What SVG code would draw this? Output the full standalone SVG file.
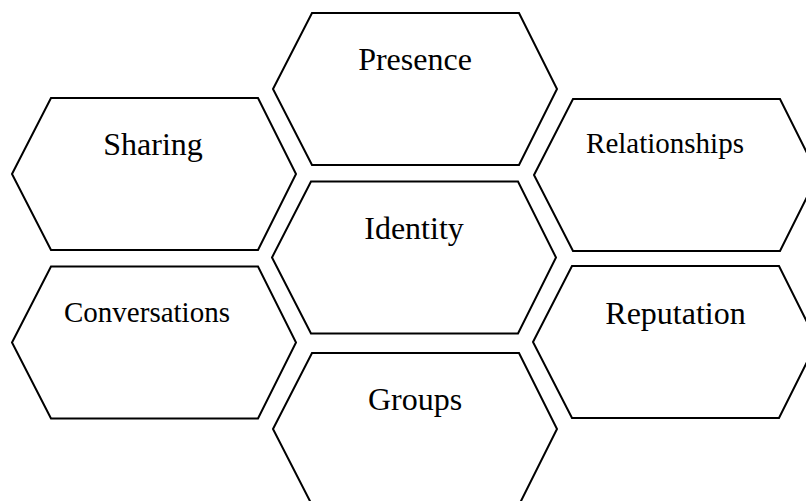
<svg xmlns="http://www.w3.org/2000/svg" xmlns:xlink="http://www.w3.org/1999/xlink" width="806" height="501" viewBox="0 0 806 501">
<style>
.hex{fill:#fff;stroke:#000;stroke-width:2;stroke-linejoin:miter}
.lbl{font-family:"Liberation Serif","Times New Roman",serif;font-size:32px;fill:#000;text-anchor:middle}
.sm{font-size:29px}
</style>
<defs>
<path id="hx" d="M -142,0 L -103,-76 L 104,-76 L 142,0 L 104,76 L -103,76 Z"/>
</defs>
<rect width="806" height="501" fill="#fff"/>
<g id="connectors"/>
<g id="presence"><use xlink:href="#hx" href="#hx" class="hex" transform="translate(415,89)"/><text class="lbl" x="415" y="70">Presence</text></g>
<g id="sharing"><use xlink:href="#hx" href="#hx" class="hex" transform="translate(154,174)"/><text class="lbl" x="153" y="155">Sharing</text></g>
<g id="relationships"><use xlink:href="#hx" href="#hx" class="hex" transform="translate(676,175)"/><text class="lbl sm" x="665" y="153">Relationships</text></g>
<g id="identity"><use xlink:href="#hx" href="#hx" class="hex" transform="translate(414,257.5)"/><text class="lbl" x="414" y="239">Identity</text></g>
<g id="conversations"><use xlink:href="#hx" href="#hx" class="hex" transform="translate(154,342.5)"/><text class="lbl sm" x="147" y="322">Conversations</text></g>
<g id="reputation"><use xlink:href="#hx" href="#hx" class="hex" transform="translate(675,342)"/><text class="lbl" x="675.5" y="324">Reputation</text></g>
<g id="groups"><use xlink:href="#hx" href="#hx" class="hex" transform="translate(415,429)"/><text class="lbl" x="415" y="410">Groups</text></g>
</svg>
